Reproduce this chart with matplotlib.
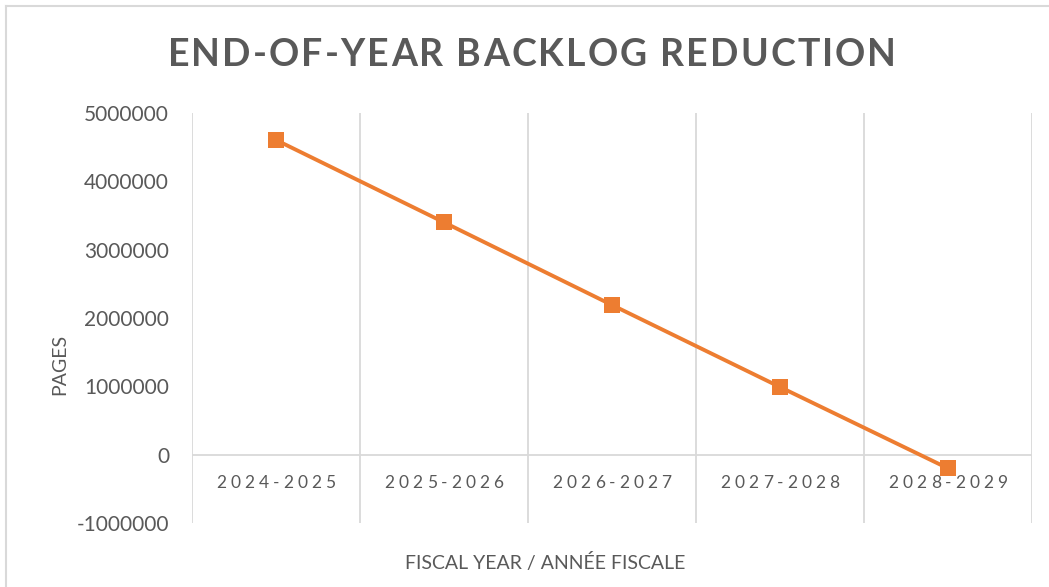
import matplotlib
matplotlib.use("Agg")
import matplotlib.pyplot as plt
from matplotlib.lines import Line2D
from matplotlib.text import Text

categories = ["2024-2025", "2025-2026", "2026-2027", "2027-2028", "2028-2029"]
backlog = [4605000, 3400000, 2190000, 990000, -200000]
y_ticks = [-1000000, 0, 1000000, 2000000, 3000000, 4000000, 5000000]

title = "END-OF-YEAR BACKLOG REDUCTION"
x_title = "FISCAL YEAR / ANNÉE FISCALE"
y_title = "PAGES"

W, H = 1049, 587
fig = plt.figure(figsize=(W / 100, H / 100), dpi=100)
renderer = fig.canvas.get_renderer()
FONT = ["Lato", "DejaVu Sans"]
TXT = "#595959"
GRID = "#d9d9d9"
ORANGE = "#ED7D31"

left, right, top, bottom = 192, 1032, 113, 523
ax = fig.add_axes([left / W, 1 - bottom / H, (right - left) / W, (bottom - top) / H])
ax.set_xlim(-0.5, len(categories) - 0.5)
ax.set_ylim(y_ticks[0], y_ticks[-1])
for s in ax.spines.values():
    s.set_visible(False)

for b in range(len(categories) + 1):
    ax.axvline(b - 0.5, color=GRID, lw=1.3, zorder=1)
ax.axhline(0, color=GRID, lw=1.3, zorder=1)

xs = list(range(len(categories)))
ax.plot(xs, backlog, color=ORANGE, lw=2.8, marker="s", markersize=12,
        markeredgewidth=0, zorder=3)

ax.set_xticks([])
ax.set_yticks(y_ticks)
ax.set_yticklabels([str(v) for v in y_ticks], fontsize=15, color=TXT, family=FONT)
ax.tick_params(axis="y", length=0, pad=16.5)


def char_width(ch, size, weight):
    if ch == " ":
        t = Text(0, 0, "a a", fontsize=size, fontweight=weight, family=FONT)
        t.set_figure(fig)
        w2 = t.get_window_extent(renderer).width
        t = Text(0, 0, "aa", fontsize=size, fontweight=weight, family=FONT)
        t.set_figure(fig)
        return w2 - t.get_window_extent(renderer).width
    t = Text(0, 0, ch, fontsize=size, fontweight=weight, family=FONT)
    t.set_figure(fig)
    return t.get_window_extent(renderer).width


def tracked(xy, s, size, track, xycoords, dy=0.0, weight="normal"):
    widths = [char_width(c, size, weight) for c in s]
    total = sum(widths) + track * (len(s) - 1)
    x = -total / 2
    for c, w in zip(s, widths):
        if c != " ":
            ax.annotate(c, xy=xy, xycoords=xycoords, xytext=(x + w / 2, dy),
                        textcoords="offset pixels", ha="center", va="center",
                        fontsize=size, fontweight=weight, color=TXT, family=FONT,
                        annotation_clip=False)
        x += w + track


for i, c in enumerate(categories):
    tracked((i, 0), c, 12.5, 4.0, "data", dy=-28)

tracked((532 / W, 1 - 55 / H), title, 27, 2.1, "figure fraction", weight="bold")

fig.text(545 / W, 1 - 563 / H, x_title, ha="center", va="center",
         fontsize=14, color=TXT, family=FONT)
fig.text(60 / W, 1 - 364 / H, y_title, ha="center", va="center", rotation=90,
         fontsize=14, color=TXT, family=FONT)

fig.add_artist(Line2D([6 / W, 6 / W], [0, 1 - 6 / H], transform=fig.transFigure, color=GRID, lw=1.5))
fig.add_artist(Line2D([6 / W, 1], [1 - 6 / H, 1 - 6 / H], transform=fig.transFigure, color=GRID, lw=1.5))

fig.savefig("out.png", dpi=100, facecolor="white")
